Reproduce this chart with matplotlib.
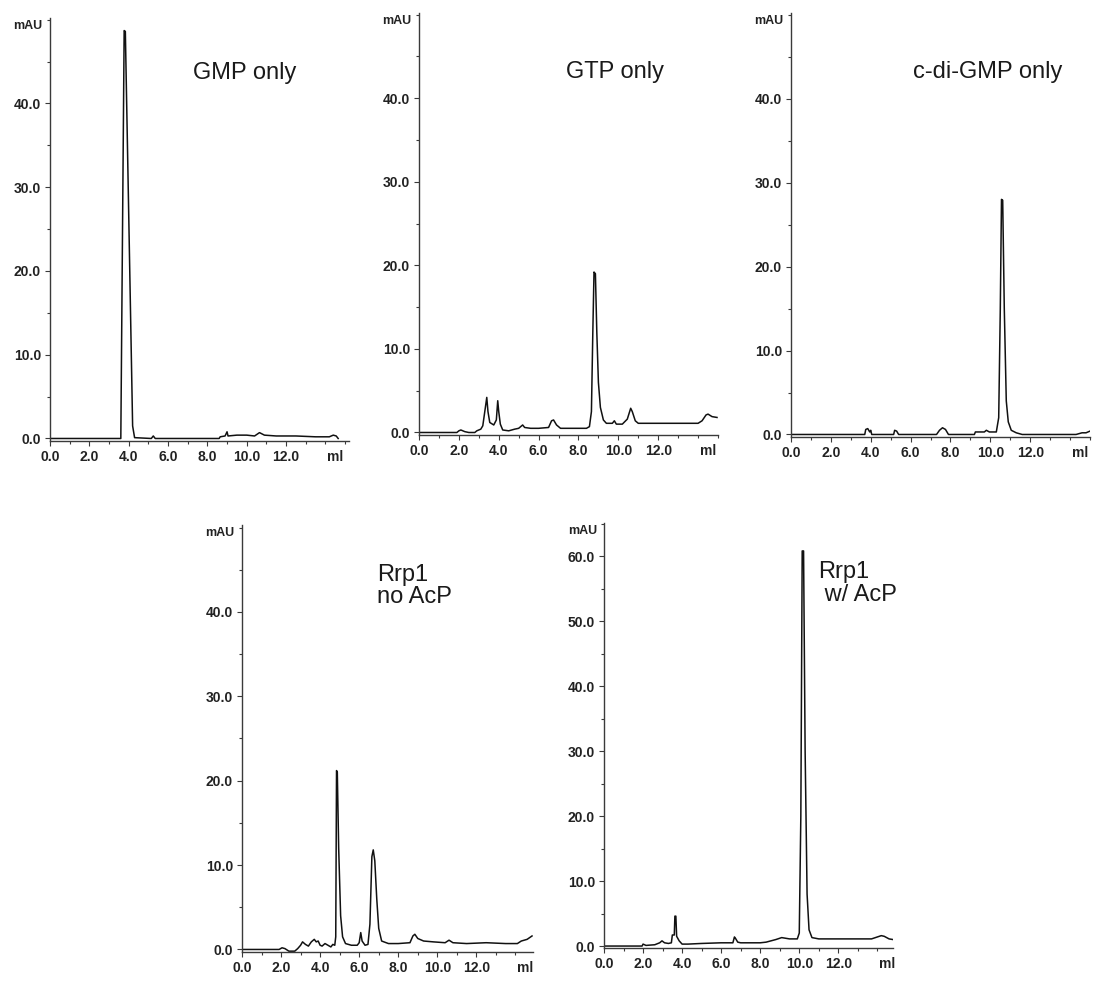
import matplotlib
matplotlib.use("Agg")
import matplotlib.pyplot as plt
from matplotlib.ticker import MultipleLocator, FormatStrFormatter

W, H = 1094, 982

# ---------------------------------------------------------------------------
# data: chromatogram traces (x in ml, y in mAU)
# ---------------------------------------------------------------------------
gmp_x = [0.0, 3.6, 3.77, 3.83, 4.2, 4.3, 5.15, 5.25, 5.35, 8.6, 8.65, 8.9, 9.0,
         9.05, 9.5, 10.0, 10.4, 10.65, 10.9, 11.5, 12.5, 13.5, 14.2, 14.4, 14.55, 14.65]
gmp_y = [0.0, 0.0, 48.7, 48.6, 1.5, 0.1, 0.0, 0.3, 0.0, 0.0, 0.2, 0.3, 0.8,
         0.3, 0.4, 0.4, 0.3, 0.7, 0.4, 0.3, 0.3, 0.2, 0.2, 0.4, 0.3, 0.0]

gtp_x = [0.0, 1.9, 2.0, 2.1, 2.3, 2.5, 2.8, 2.9, 3.1, 3.2, 3.33, 3.4, 3.46, 3.55,
         3.75, 3.88, 3.95, 4.0, 4.08, 4.2, 4.5, 4.8, 5.0, 5.2, 5.3, 5.6, 6.0, 6.5,
         6.65, 6.75, 6.9, 7.1, 8.4, 8.55, 8.65, 8.72, 8.78, 8.85, 8.92, 9.0, 9.1,
         9.25, 9.4, 9.7, 9.8, 9.9, 10.2, 10.45, 10.62, 10.7, 10.85, 11.0, 12.0,
         13.0, 14.0, 14.2, 14.4, 14.5, 14.7, 14.95]
gtp_y = [0.0, 0.0, 0.2, 0.3, 0.1, 0.0, 0.0, 0.2, 0.4, 0.8, 3.0, 4.2, 2.5, 1.2,
         0.9, 1.5, 3.8, 2.5, 1.0, 0.3, 0.2, 0.4, 0.5, 0.9, 0.6, 0.5, 0.5, 0.6,
         1.4, 1.5, 0.9, 0.5, 0.5, 0.7, 2.5, 12.0, 19.2, 19.0, 12.0, 6.0, 3.0,
         1.5, 1.1, 1.1, 1.4, 1.0, 1.0, 1.6, 2.9, 2.5, 1.4, 1.1, 1.1,
         1.1, 1.1, 1.4, 2.1, 2.2, 1.9, 1.8]

cdg_x = [0.0, 3.7, 3.75, 3.85, 3.95, 4.0, 4.05, 5.15, 5.2, 5.3, 5.4, 7.3, 7.45,
         7.6, 7.75, 7.9, 9.2, 9.25, 9.5, 9.7, 9.8, 9.95, 10.3, 10.42, 10.5, 10.56,
         10.62, 10.7, 10.8, 10.9, 11.05, 11.3, 11.6, 14.3, 14.6, 14.8, 15.0]
cdg_y = [0.0, 0.0, 0.6, 0.7, 0.3, 0.5, 0.0, 0.0, 0.5, 0.4, 0.0, 0.0, 0.5,
         0.8, 0.6, 0.0, 0.0, 0.3, 0.3, 0.3, 0.5, 0.3, 0.3, 2.0, 15.0, 28.0,
         27.9, 15.0, 4.0, 1.5, 0.5, 0.2, 0.0, 0.0, 0.2, 0.2, 0.4]

noacp_x = [0.0, 1.9, 2.05, 2.2, 2.4, 2.7, 2.85, 3.0, 3.1, 3.25, 3.4, 3.55, 3.7,
           3.8, 3.9, 4.0, 4.1, 4.25, 4.4, 4.55, 4.65, 4.75, 4.8, 4.84, 4.88,
           4.95, 5.05, 5.15, 5.3, 5.6, 5.9, 6.0, 6.08, 6.15, 6.3, 6.45, 6.55,
           6.65, 6.72, 6.8, 6.9, 7.0, 7.15, 7.5, 8.0, 8.6, 8.75, 8.85, 9.0, 9.3,
           9.8, 10.4, 10.6, 10.8, 11.5, 12.5, 13.5, 14.1, 14.3, 14.6, 14.85]
noacp_y = [0.0, 0.0, 0.2, 0.1, -0.2, -0.2, 0.1, 0.5, 0.9, 0.6, 0.4, 0.9, 1.2,
           0.9, 1.0, 0.5, 0.4, 0.7, 0.5, 0.3, 0.6, 0.5, 1.5, 21.2, 21.0,
           12.0, 4.0, 1.5, 0.7, 0.5, 0.5, 0.8, 2.0, 1.0, 0.5, 0.6, 3.0,
           11.0, 11.8, 10.5, 6.0, 2.5, 1.0, 0.7, 0.7, 0.8, 1.6, 1.8, 1.3, 1.0,
           0.9, 0.8, 1.1, 0.8, 0.7, 0.8, 0.7, 0.7, 1.0, 1.2, 1.6]

acp_x = [0.0, 1.95, 2.0, 2.15, 2.6, 2.85, 2.97, 3.1, 3.3, 3.45, 3.5, 3.6, 3.63,
         3.68, 3.72, 3.85, 4.0, 4.3, 5.0, 6.0, 6.6, 6.68, 6.73, 6.85, 7.0, 8.0,
         8.3, 8.8, 9.1, 9.5, 9.9, 10.0, 10.08, 10.15, 10.22, 10.3, 10.4, 10.5,
         10.65, 11.0, 12.0, 13.0, 13.7, 13.9, 14.2, 14.35, 14.6, 14.8]
acp_y = [0.0, 0.0, 0.3, 0.1, 0.2, 0.5, 0.8, 0.5, 0.4, 0.5, 1.7, 1.7, 4.6,
         4.6, 1.5, 0.8, 0.3, 0.3, 0.4, 0.5, 0.5, 1.4, 1.2, 0.6, 0.5, 0.5,
         0.6, 1.0, 1.3, 1.1, 1.1, 2.0, 20.0, 60.8, 60.8, 30.0, 8.0, 2.5,
         1.3, 1.1, 1.1, 1.1, 1.1, 1.3, 1.6, 1.5, 1.1, 1.0]

labels = ["GMP only", "GTP only", "c-di-GMP only", "Rrp1\nno AcP", "Rrp1\n w/ AcP"]
y_max = [50.2, 50.2, 50.2, 50.3, 65.1]
y_top_tick = [40, 40, 40, 40, 60]
x_max = [15.2, 15.0, 15.0, 14.9, 14.8]
x_ticks = [0, 2, 4, 6, 8, 10, 12]

# axes boxes in pixels: left, top, right, bottom
boxes = [(50, 18, 349, 441), (419, 13, 718, 435), (791, 13, 1090, 437),
         (242, 525, 533, 952), (604, 523, 893, 948)]
label_pos = [(0.478, 0.87), (0.49, 0.86), (0.408, 0.861), (0.464, 0.857), (0.74, 0.857)]

traces = [(gmp_x, gmp_y), (gtp_x, gtp_y), (cdg_x, cdg_y),
          (noacp_x, noacp_y), (acp_x, acp_y)]

TICK_FONT = ["Liberation Sans Narrow", "Liberation Sans", "DejaVu Sans"]
TEXT_FONT = ["Liberation Sans", "DejaVu Sans"]
AXIS_COL = "#3a3a3a"

fig = plt.figure(figsize=(W / 100, H / 100), dpi=100)

for i, (xs, ys) in enumerate(traces):
    l, t, r, b = boxes[i]
    ax = fig.add_axes([l / W, 1 - b / H, (r - l) / W, (b - t) / H])
    ax.plot(xs, ys, color="#111111", lw=1.1)
    ax.set_xlim(0, x_max[i])
    ax.set_ylim(-0.3, y_max[i])

    for side in ("top", "right"):
        ax.spines[side].set_visible(False)
    for side in ("left", "bottom"):
        ax.spines[side].set_color(AXIS_COL)
        ax.spines[side].set_linewidth(1.0)

    ax.set_xticks(x_ticks)
    ax.xaxis.set_minor_locator(MultipleLocator(1))
    ax.xaxis.set_major_formatter(FormatStrFormatter("%.1f"))
    ax.set_yticks(list(range(0, y_top_tick[i] + 1, 10)))
    ax.yaxis.set_minor_locator(MultipleLocator(5))
    ax.yaxis.set_major_formatter(FormatStrFormatter("%.1f"))
    ax.tick_params(which="both", direction="out", color=AXIS_COL, width=0.8)
    ax.tick_params(which="major", length=3.5, pad=3)
    ax.tick_params(which="minor", length=2.5)
    for tl in ax.get_xticklabels() + ax.get_yticklabels():
        tl.set_family(TICK_FONT)
        tl.set_fontweight("bold")
        tl.set_fontsize(10)
        tl.set_color("#222222")

    ax.annotate("ml", xy=(14.5, 0), xycoords=("data", "axes fraction"),
                xytext=(0, -6.5), textcoords="offset points", ha="center", va="top",
                family=TICK_FONT, fontweight="bold", fontsize=10, color="#222222")
    ax.text(-0.025, 0.995, "mAU", transform=ax.transAxes, ha="right", va="top",
            family=TICK_FONT, fontweight="bold", fontsize=9, color="#222222")
    ax.text(label_pos[i][0], label_pos[i][1], labels[i], transform=ax.transAxes,
            ha="left", va="center", family=TEXT_FONT, fontsize=17,
            color="#1a1a1a", linespacing=1.05)

fig.savefig("out.png", dpi=100)
